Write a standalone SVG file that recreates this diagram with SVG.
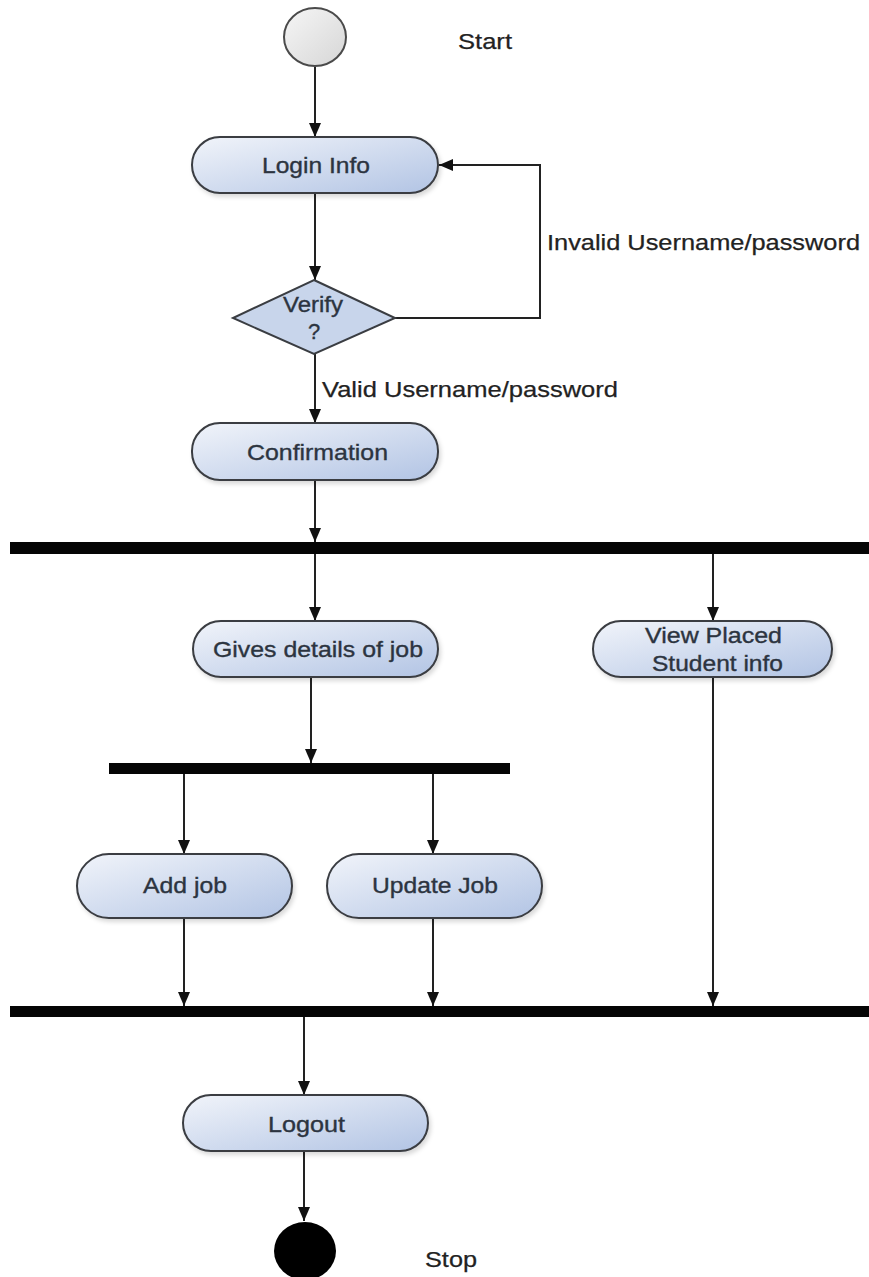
<svg xmlns="http://www.w3.org/2000/svg" width="869" height="1277" viewBox="0 0 869 1277">
  <defs>
    <linearGradient id="actFill" x1="0" y1="0" x2="1" y2="1">
      <stop offset="0" stop-color="#f1f4fa"/>
      <stop offset="1" stop-color="#b2c4e4"/>
    </linearGradient>
    <linearGradient id="startFill" x1="0" y1="0" x2="1" y2="1">
      <stop offset="0" stop-color="#f6f6f6"/>
      <stop offset="1" stop-color="#d6d6d6"/>
    </linearGradient>
    <marker id="arrow" viewBox="0 0 14 12" refX="14" refY="6" markerWidth="14" markerHeight="12" markerUnits="userSpaceOnUse" orient="auto">
      <path d="M0,0 L14,6 L0,12 Z" fill="#111"/>
    </marker>
    <filter id="shadow" x="-10%" y="-10%" width="130%" height="140%">
      <feDropShadow dx="2" dy="3" stdDeviation="2" flood-color="#000" flood-opacity="0.15"/>
    </filter>
  </defs>
  <style>
    .act { fill: url(#actFill); stroke: #3a3d42; stroke-width: 2; filter: url(#shadow); }
    .bar { fill: #050505; }
    .edge { fill: none; stroke: #222; stroke-width: 2; marker-end: url(#arrow); }
    .lbl { font-family: "Liberation Sans", Arial, sans-serif; font-size: 22px; fill: #2c3440; stroke: #2c3440; stroke-width: 0.35; }
    .note { font-family: "Liberation Sans", Arial, sans-serif; font-size: 22px; fill: #222; stroke: #222; stroke-width: 0.25; }
  </style>

  <rect width="869" height="1277" fill="#ffffff"/>

  <!-- connectors -->
  <g id="connectors">
    <line class="edge" x1="315" y1="67" x2="315" y2="137"/>
    <line class="edge" x1="315" y1="193" x2="315" y2="280"/>
    <polyline class="edge" points="395,318 540,318 540,165 439,165"/>
    <line class="edge" x1="315" y1="354" x2="315" y2="423"/>
    <line class="edge" x1="315" y1="481" x2="315" y2="542"/>
    <line class="edge" x1="315" y1="554" x2="315" y2="621"/>
    <line class="edge" x1="713" y1="554" x2="713" y2="621"/>
    <line class="edge" x1="311" y1="677" x2="311" y2="763"/>
    <line class="edge" x1="184" y1="774" x2="184" y2="854"/>
    <line class="edge" x1="433" y1="774" x2="433" y2="854"/>
    <line class="edge" x1="184" y1="918" x2="184" y2="1006"/>
    <line class="edge" x1="433" y1="918" x2="433" y2="1006"/>
    <line class="edge" x1="713" y1="677" x2="713" y2="1006"/>
    <line class="edge" x1="304" y1="1017" x2="304" y2="1095"/>
    <line class="edge" x1="304" y1="1151" x2="304" y2="1221"/>
  </g>

  <!-- initial node -->
  <g id="start">
    <ellipse cx="315" cy="37" rx="31" ry="29" fill="url(#startFill)" stroke="#4a4a4a" stroke-width="2"/>
    <text class="note" x="458" y="49" textLength="54" lengthAdjust="spacingAndGlyphs">Start</text>
  </g>

  <g id="login">
    <rect class="act" x="192" y="137" width="246" height="56" rx="28" ry="28"/>
    <text class="lbl" x="262" y="173" textLength="108" lengthAdjust="spacingAndGlyphs">Login Info</text>
  </g>

  <g id="verify">
    <polygon points="314,280 395,318 314,354 233,318" fill="#c8d5eb" stroke="#3a3d42" stroke-width="2"/>
    <text class="lbl" x="283" y="312" textLength="60" lengthAdjust="spacingAndGlyphs">Verify</text>
    <text class="lbl" x="308" y="339">?</text>
  </g>

  <g id="invalid-label">
    <text class="note" x="547" y="250" textLength="313" lengthAdjust="spacingAndGlyphs">Invalid Username/password</text>
  </g>

  <g id="valid-label">
    <text class="note" x="322" y="397" textLength="296" lengthAdjust="spacingAndGlyphs">Valid Username/password</text>
  </g>

  <g id="confirmation">
    <rect class="act" x="192" y="423" width="246" height="57" rx="28" ry="28"/>
    <text class="lbl" x="247" y="460" textLength="141" lengthAdjust="spacingAndGlyphs">Confirmation</text>
  </g>

  <g id="fork1">
    <rect class="bar" x="10" y="542" width="859" height="12"/>
  </g>

  <g id="gives-details">
    <rect class="act" x="193" y="621" width="245" height="56" rx="28" ry="28"/>
    <text class="lbl" x="213" y="657" textLength="210" lengthAdjust="spacingAndGlyphs">Gives details of job</text>
  </g>

  <g id="view-placed">
    <rect class="act" x="593" y="621" width="239" height="56" rx="28" ry="28"/>
    <text class="lbl" x="645" y="643" textLength="137" lengthAdjust="spacingAndGlyphs">View Placed</text>
    <text class="lbl" x="652" y="671" textLength="131" lengthAdjust="spacingAndGlyphs">Student info</text>
  </g>

  <g id="fork2">
    <rect class="bar" x="109" y="763" width="401" height="11"/>
  </g>

  <g id="add-job">
    <rect class="act" x="77" y="854" width="215" height="64" rx="32" ry="32"/>
    <text class="lbl" x="143" y="893" textLength="84" lengthAdjust="spacingAndGlyphs">Add job</text>
  </g>

  <g id="update-job">
    <rect class="act" x="327" y="854" width="215" height="64" rx="32" ry="32"/>
    <text class="lbl" x="372" y="893" textLength="126" lengthAdjust="spacingAndGlyphs">Update Job</text>
  </g>

  <g id="join">
    <rect class="bar" x="10" y="1006" width="859" height="11"/>
  </g>

  <g id="logout">
    <rect class="act" x="183" y="1095" width="245" height="56" rx="28" ry="28"/>
    <text class="lbl" x="268" y="1132" textLength="77" lengthAdjust="spacingAndGlyphs">Logout</text>
  </g>

  <!-- final node -->
  <g id="stop">
    <ellipse cx="305" cy="1251" rx="31" ry="29" fill="#000"/>
    <text class="note" x="425" y="1267" textLength="52" lengthAdjust="spacingAndGlyphs">Stop</text>
  </g>
</svg>
